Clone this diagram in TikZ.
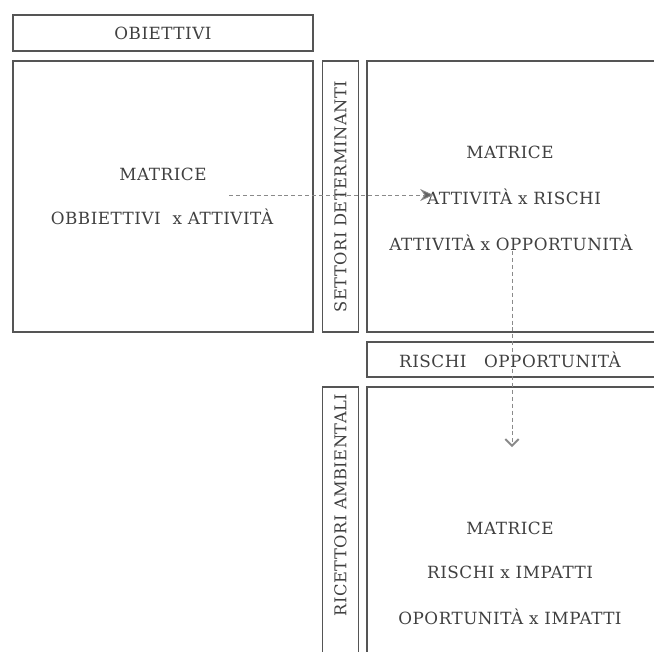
\documentclass[tikz,border=0pt]{standalone}
\usepackage{fontspec}
\setmainfont{DejaVu Serif}[LetterSpace=3]
\usetikzlibrary{arrows.meta}
\definecolor{boxline}{HTML}{555555}
\definecolor{dashgray}{HTML}{8A8A8A}
\begin{document}
\begin{tikzpicture}[x=0.75pt,y=-0.75pt,
  frame/.style={draw=boxline,line width=0.9pt,rectangle,inner sep=0pt},
  lbl/.style={inner sep=0pt,font=\fontsize{12.6}{14}\selectfont,text=black!75},
  vlbl/.style={lbl,rotate=90,font=\fontsize{12.2}{14}\selectfont},
  dashline/.style={draw=dashgray,line width=0.7pt,dash pattern=on 3pt off 2.2pt}]
\useasboundingbox (0,0) rectangle (654,651);
\clip (0,0) rectangle (654,651);
% boxes
\node[frame,minimum width=300*0.75pt,minimum height=36*0.75pt] (obj) at (163,33) {};
\node[frame,minimum width=300*0.75pt,minimum height=271*0.75pt] (left) at (163,196.5) {};
\node[frame,minimum width=36*0.75pt,minimum height=271*0.75pt] (settori) at (340.5,196.5) {};
\node[frame,minimum width=313*0.75pt,minimum height=271*0.75pt] (rtop) at (523.5,196.5) {};
\node[frame,minimum width=313*0.75pt,minimum height=35*0.75pt] (rischi) at (523.5,359.5) {};
\node[frame,minimum width=36*0.75pt,minimum height=293*0.75pt] (ricettori) at (340.5,533.5) {};
\node[frame,minimum width=313*0.75pt,minimum height=293*0.75pt] (rbot) at (523.5,533.5) {};
% texts
\node[lbl] (tobj) at (163,33) {OBIETTIVI};
\node[lbl] (lm) at (163,174) {MATRICE};
\node[lbl] (loa) at (162,217) {OBBIETTIVI\ \ x ATTIVITÀ};
\node[vlbl] (tset) at (340.5,196.5) {SETTORI DETERMINANTI};
\node[lbl] (rm) at (510,152) {MATRICE};
\node[lbl] (rar) at (514,197) {ATTIVITÀ x RISCHI};
\node[lbl] (rao) at (511,243) {ATTIVITÀ x OPPORTUNITÀ};
\node[lbl] (tris) at (510,360) {RISCHI\ \ \ OPPORTUNITÀ};
\node[vlbl] (tric) at (340.5,505) {RICETTORI AMBIENTALI};
\node[lbl] (bm) at (510,528) {MATRICE};
\node[lbl] (bri) at (510,572) {RISCHI x IMPATTI};
\node[lbl] (bop) at (510,617) {OPORTUNITÀ x IMPATTI};
% connectors
\coordinate (hstart) at (229,195);
\coordinate (vend) at (512,447);
\draw[dashline,-{Stealth[length=10pt,width=9pt,fill=dashgray!70!black]}] (hstart) -- ([xshift=5pt]rar.west |- hstart);
\draw[dashline,-{Straight Barb[length=5pt,width=10pt,line width=1.4pt]}] (rao.south -| vend) -- (vend);
\end{tikzpicture}
\end{document}
